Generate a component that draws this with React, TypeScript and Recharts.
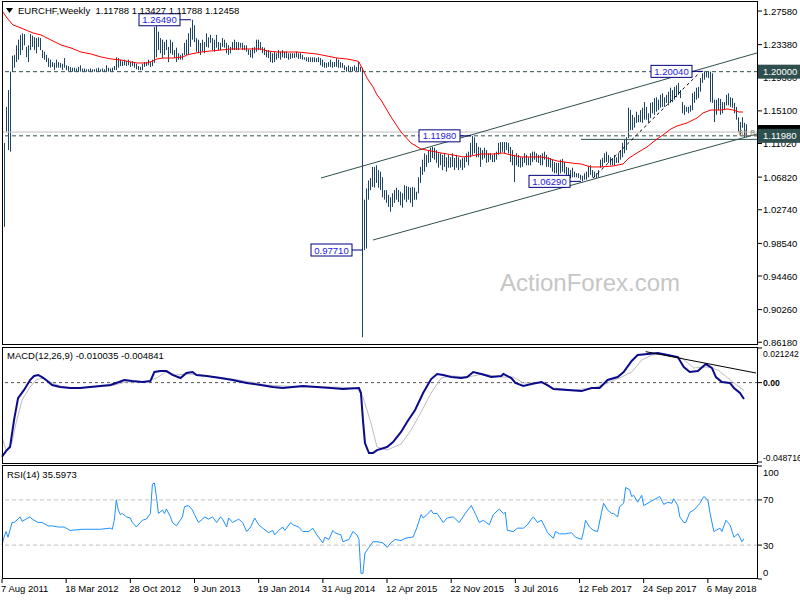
import { ComposedChart, Bar, Line, XAxis, YAxis, ReferenceLine, ReferenceDot } from "recharts"

// weekly EURCHF bars, week 0 = 7 Aug 2011
const highs = [
  1.111, 1.156, 1.177, 1.200, 1.220, 1.221, 1.233, 1.240, 1.246, 1.248,
  1.247, 1.231, 1.233, 1.247, 1.245, 1.243, 1.242, 1.243, 1.242, 1.227,
  1.225, 1.221, 1.217, 1.215, 1.212, 1.211, 1.215, 1.212, 1.211, 1.210,
  1.217, 1.208, 1.207, 1.206, 1.205, 1.205, 1.204, 1.206, 1.208, 1.204,
  1.204, 1.203, 1.203, 1.204, 1.203, 1.203, 1.204, 1.205, 1.203, 1.204,
  1.203, 1.208, 1.205, 1.204, 1.205, 1.207, 1.218, 1.217, 1.215, 1.213,
  1.215, 1.213, 1.215, 1.212, 1.213, 1.211, 1.210, 1.207, 1.206, 1.210,
  1.212, 1.212, 1.215, 1.212, 1.215, 1.256, 1.257, 1.250, 1.242, 1.240,
  1.237, 1.240, 1.231, 1.240, 1.237, 1.227, 1.230, 1.223, 1.221, 1.223,
  1.236, 1.240, 1.248, 1.255, 1.2649, 1.258, 1.242, 1.240, 1.236, 1.240,
  1.237, 1.248, 1.243, 1.246, 1.242, 1.240, 1.246, 1.237, 1.236, 1.242,
  1.240, 1.236, 1.233, 1.231, 1.237, 1.240, 1.237, 1.237, 1.236, 1.236,
  1.233, 1.233, 1.228, 1.227, 1.230, 1.231, 1.240, 1.240, 1.237, 1.231,
  1.230, 1.227, 1.227, 1.225, 1.223, 1.225, 1.223, 1.227, 1.225, 1.227,
  1.225, 1.225, 1.223, 1.223, 1.223, 1.223, 1.225, 1.223, 1.223, 1.221,
  1.218, 1.218, 1.218, 1.218, 1.218, 1.218, 1.217, 1.218, 1.217, 1.215,
  1.212, 1.211, 1.212, 1.215, 1.212, 1.212, 1.217, 1.215, 1.212, 1.211,
  1.208, 1.206, 1.208, 1.206, 1.206, 1.208, 1.206, 1.212, 1.206, 1.205,
  1.040, 1.054, 1.064, 1.067, 1.081, 1.081, 1.083, 1.077, 1.075, 1.068,
  1.052, 1.052, 1.046, 1.043, 1.048, 1.052, 1.055, 1.052, 1.050, 1.048,
  1.058, 1.057, 1.056, 1.055, 1.056, 1.055, 1.050, 1.068, 1.081, 1.090,
  1.098, 1.096, 1.102, 1.105, 1.106, 1.105, 1.102, 1.098, 1.098, 1.096,
  1.098, 1.093, 1.096, 1.093, 1.098, 1.092, 1.096, 1.093, 1.090, 1.092,
  1.093, 1.098, 1.100, 1.111, 1.1198, 1.118, 1.111, 1.106, 1.105, 1.102,
  1.105, 1.102, 1.098, 1.098, 1.096, 1.098, 1.100, 1.111, 1.112, 1.112,
  1.112, 1.112, 1.111, 1.106, 1.102, 1.096, 1.098, 1.096, 1.093, 1.093,
  1.098, 1.096, 1.093, 1.098, 1.100, 1.100, 1.098, 1.096, 1.096, 1.098,
  1.100, 1.096, 1.093, 1.092, 1.090, 1.087, 1.086, 1.086, 1.090, 1.091,
  1.087, 1.081, 1.080, 1.077, 1.080, 1.075, 1.073, 1.073, 1.071, 1.070,
  1.073, 1.075, 1.082, 1.083, 1.077, 1.075, 1.073, 1.077, 1.090, 1.092,
  1.098, 1.100, 1.096, 1.093, 1.092, 1.096, 1.093, 1.098, 1.102, 1.111,
  1.115, 1.118, 1.155, 1.152, 1.146, 1.143, 1.150, 1.146, 1.152, 1.155,
  1.162, 1.156, 1.148, 1.161, 1.162, 1.167, 1.168, 1.165, 1.171, 1.173,
  1.168, 1.171, 1.175, 1.180, 1.177, 1.181, 1.183, 1.186, 1.177, 1.162,
  1.158, 1.156, 1.156, 1.158, 1.173, 1.175, 1.180, 1.181, 1.192, 1.198,
  1.2004, 1.200, 1.200, 1.200, 1.198, 1.165, 1.165, 1.167, 1.166, 1.162,
  1.162, 1.171, 1.173, 1.168, 1.167, 1.161, 1.156, 1.143, 1.137, 1.143,
  1.136, 1.13427,
]

const lows = [
  1.006, 1.125, 1.102, 1.100, 1.200, 1.205, 1.212, 1.215, 1.221, 1.227,
  1.233, 1.218, 1.212, 1.227, 1.231, 1.227, 1.223, 1.231, 1.227, 1.217,
  1.215, 1.212, 1.206, 1.205, 1.206, 1.202, 1.205, 1.205, 1.205, 1.202,
  1.205, 1.202, 1.201, 1.200, 1.200, 1.200, 1.200, 1.200, 1.200, 1.200,
  1.200, 1.200, 1.200, 1.200, 1.200, 1.200, 1.200, 1.200, 1.200, 1.200,
  1.200, 1.200, 1.200, 1.200, 1.200, 1.202, 1.202, 1.205, 1.207, 1.207,
  1.208, 1.207, 1.208, 1.206, 1.207, 1.205, 1.203, 1.202, 1.202, 1.202,
  1.206, 1.207, 1.208, 1.206, 1.207, 1.211, 1.218, 1.227, 1.223, 1.217,
  1.221, 1.227, 1.212, 1.223, 1.221, 1.217, 1.212, 1.215, 1.215, 1.215,
  1.221, 1.221, 1.221, 1.231, 1.240, 1.237, 1.225, 1.223, 1.221, 1.225,
  1.223, 1.231, 1.230, 1.236, 1.227, 1.225, 1.230, 1.227, 1.227, 1.231,
  1.230, 1.223, 1.221, 1.223, 1.227, 1.227, 1.227, 1.227, 1.230, 1.227,
  1.227, 1.225, 1.221, 1.218, 1.217, 1.223, 1.225, 1.227, 1.227, 1.223,
  1.221, 1.218, 1.217, 1.212, 1.211, 1.212, 1.215, 1.217, 1.215, 1.218,
  1.217, 1.217, 1.215, 1.216, 1.217, 1.217, 1.218, 1.216, 1.216, 1.215,
  1.215, 1.213, 1.212, 1.212, 1.212, 1.212, 1.212, 1.212, 1.208, 1.206,
  1.205, 1.205, 1.206, 1.206, 1.205, 1.206, 1.206, 1.205, 1.205, 1.205,
  1.202, 1.200, 1.201, 1.200, 1.200, 1.201, 1.201, 1.200, 1.200, 0.868,
  0.9771, 0.979, 1.040, 1.052, 1.056, 1.055, 1.061, 1.055, 1.052, 1.043,
  1.040, 1.036, 1.031, 1.025, 1.031, 1.036, 1.040, 1.037, 1.033, 1.030,
  1.040, 1.037, 1.040, 1.036, 1.031, 1.040, 1.040, 1.048, 1.061, 1.071,
  1.075, 1.081, 1.086, 1.087, 1.092, 1.090, 1.086, 1.080, 1.083, 1.077,
  1.081, 1.075, 1.080, 1.080, 1.081, 1.077, 1.080, 1.077, 1.080, 1.077,
  1.080, 1.087, 1.083, 1.093, 1.096, 1.098, 1.093, 1.093, 1.081, 1.090,
  1.092, 1.086, 1.087, 1.090, 1.087, 1.087, 1.090, 1.096, 1.098, 1.100,
  1.098, 1.102, 1.098, 1.087, 1.083, 1.062, 1.083, 1.081, 1.080, 1.081,
  1.086, 1.083, 1.083, 1.083, 1.087, 1.090, 1.087, 1.086, 1.083, 1.083,
  1.090, 1.081, 1.081, 1.080, 1.075, 1.073, 1.073, 1.071, 1.073, 1.075,
  1.073, 1.071, 1.068, 1.067, 1.068, 1.068, 1.068, 1.067, 1.065, 1.0629,
  1.065, 1.065, 1.068, 1.071, 1.068, 1.068, 1.067, 1.068, 1.080, 1.081,
  1.086, 1.087, 1.086, 1.083, 1.083, 1.083, 1.086, 1.086, 1.090, 1.093,
  1.098, 1.102, 1.117, 1.127, 1.127, 1.130, 1.136, 1.137, 1.137, 1.136,
  1.140, 1.140, 1.136, 1.142, 1.148, 1.146, 1.150, 1.152, 1.155, 1.156,
  1.156, 1.161, 1.158, 1.161, 1.162, 1.165, 1.168, 1.171, 1.167, 1.148,
  1.146, 1.150, 1.148, 1.150, 1.152, 1.161, 1.165, 1.167, 1.175, 1.186,
  1.190, 1.193, 1.192, 1.162, 1.161, 1.137, 1.146, 1.152, 1.146, 1.148,
  1.152, 1.158, 1.158, 1.156, 1.155, 1.148, 1.140, 1.125, 1.121, 1.130,
  1.118, 1.11788,
]

// red moving average, read as [week, price]
const maLine = [
  [0, 1.2746], [2, 1.2671], [5, 1.2584], [9, 1.2546], [15, 1.2484], [19, 1.2459], [24, 1.2396],
  [29, 1.2334], [34, 1.2296], [39, 1.2246], [44, 1.2221], [49, 1.2184], [54, 1.2159], [59, 1.2146],
  [64, 1.2121], [67, 1.2109], [72, 1.2109], [75, 1.2134], [77, 1.2159], [80, 1.2171], [85, 1.2171],
  [90, 1.2184], [92, 1.2209], [94, 1.2221], [99, 1.2246], [104, 1.2259], [109, 1.2271], [114, 1.2284],
  [119, 1.2284], [124, 1.2284], [129, 1.2284], [132, 1.2259], [137, 1.2246], [142, 1.2246],
  [147, 1.2246], [152, 1.2234], [157, 1.2221], [162, 1.2196], [167, 1.2171], [172, 1.2159],
  [177, 1.2134], [178, 1.2121], [180, 1.2021], [182, 1.1921], [185, 1.1809], [187, 1.1709],
  [189, 1.1646], [194, 1.1434], [199, 1.1246], [204, 1.1109], [209, 1.1034], [214, 1.1009],
  [219, 1.0984], [225, 1.0959], [230, 1.0934], [234, 1.0946], [239, 1.0971], [245, 1.0971],
  [250, 1.0984], [254, 1.0959], [259, 1.0934], [264, 1.0934], [269, 1.0934], [272, 1.0921],
  [277, 1.0884], [284, 1.0859], [289, 1.0846], [294, 1.0809], [299, 1.0809], [305, 1.0821],
  [310, 1.0846], [313, 1.0921], [317, 1.0984], [322, 1.1059], [327, 1.1159], [330, 1.1209],
  [334, 1.1284], [337, 1.1321], [342, 1.1359], [347, 1.1421], [350, 1.1484], [354, 1.1521],
  [359, 1.1521], [362, 1.1534], [365, 1.1521], [368, 1.1496], [370, 1.1496],
]

const macdLine = [
  [0, -0.0455], [2, -0.042], [4, -0.0395], [6, -0.023], [8, -0.0095], [11, -0.0045], [14, 0.0016],
  [16, 0.0041], [18, 0.0047], [20, 0.0034], [22, 0.0016], [25, -0.0015], [29, -0.0027], [34, -0.0033],
  [39, -0.0033], [44, -0.0027], [49, -0.0021], [54, -0.0015], [57, -0.0002], [61, 0.0016], [65, 0.001],
  [70, 0.0004], [74, 0.001], [76, 0.0065], [79, 0.0071], [82, 0.0071], [85, 0.0047], [89, 0.0028],
  [92, 0.0059], [95, 0.0065], [97, 0.0047], [102, 0.0041], [109, 0.0028], [115, 0.0016], [122, -0.0002],
  [129, -0.0015], [135, -0.0027], [140, -0.0033], [145, -0.0027], [150, -0.0021], [157, -0.0027],
  [164, -0.0033], [170, -0.0039], [178, -0.0033], [179, -0.0064], [180, -0.023], [181, -0.0371],
  [183, -0.0432], [185, -0.0432], [187, -0.0414], [192, -0.0395], [195, -0.0365], [199, -0.0303],
  [202, -0.0242], [206, -0.0168], [210, -0.0064], [214, 0.0022], [217, 0.0053], [220, 0.0047],
  [224, 0.0034], [229, 0.0028], [232, 0.0034], [235, 0.0065], [239, 0.0053], [244, 0.0034],
  [249, 0.0041], [250, 0.0053], [254, 0.0028], [256, -0.0002], [260, -0.0021], [264, -0.0009],
  [269, 0.0004], [272, -0.0015], [275, -0.0039], [282, -0.0045], [289, -0.0052], [294, -0.0033],
  [298, -0.0033], [302, 0.0016], [307, 0.0034], [310, 0.0065], [314, 0.0133], [317, 0.0169],
  [322, 0.0176], [327, 0.0182], [332, 0.0169], [337, 0.0157], [340, 0.0096], [343, 0.0065],
  [347, 0.0071], [351, 0.0114], [354, 0.009], [356, 0.0034], [359, 0.0004], [363, -0.0002],
  [365, -0.0033], [368, -0.0064], [370, -0.010035],
]

const signalLine = [
  [0, -0.0334], [2, -0.0414], [5, -0.0371], [7, -0.0248], [10, -0.0107], [14, -0.0027], [17, 0.0016],
  [20, 0.0028], [24, 0.0004], [29, -0.0021], [35, -0.0033], [44, -0.0027], [54, -0.0021], [62, 0.0004],
  [72, 0.0004], [77, 0.0028], [82, 0.0065], [87, 0.0047], [92, 0.0053], [99, 0.0047], [115, 0.0022],
  [132, -0.0015], [149, -0.0027], [165, -0.0027], [177, -0.0033], [180, -0.0088], [184, -0.0248],
  [187, -0.0395], [192, -0.0414], [199, -0.0377], [204, -0.0291], [209, -0.018], [214, -0.0064],
  [219, 0.0028], [224, 0.0041], [232, 0.0034], [240, 0.0053], [249, 0.0034], [255, 0.0034],
  [260, -0.0002], [269, -0.0002], [275, -0.0033], [285, -0.0045], [295, -0.0033], [302, -0.0002],
  [309, 0.0034], [314, 0.0065], [319, 0.0139], [324, 0.0169], [330, 0.0176], [339, 0.0151],
  [345, 0.009], [352, 0.0096], [357, 0.0077], [362, 0.0028], [365, -0.0002], [370, -0.004841],
]

const rsiLine = [
  [0, 30], [1, 37], [2, 42], [3, 37], [5, 50], [6, 50], [8, 53], [9, 55], [10, 51], [12, 53], [14, 55],
  [15, 53], [18, 50], [20, 50], [23, 47], [25, 47], [28, 46], [31, 46], [34, 43], [40, 44], [49, 44],
  [54, 45], [55, 44], [56, 52], [57, 70], [58, 61], [59, 57], [60, 58], [62, 55], [64, 54], [65, 50],
  [67, 46], [70, 52], [72, 53], [74, 58], [75, 84], [76, 85], [77, 73], [78, 58], [80, 61], [81, 58],
  [82, 62], [84, 55], [85, 50], [87, 47], [90, 55], [91, 64], [93, 65], [95, 61], [96, 57], [98, 50],
  [100, 53], [101, 55], [103, 53], [105, 55], [107, 50], [109, 55], [110, 53], [112, 46], [113, 54],
  [115, 50], [118, 53], [120, 50], [122, 42], [124, 46], [126, 54], [128, 48], [130, 45], [133, 41],
  [135, 43], [136, 39], [138, 43], [140, 46], [141, 43], [144, 50], [145, 48], [148, 46], [150, 42],
  [153, 42], [155, 45], [157, 39], [160, 32], [161, 37], [163, 35], [165, 43], [166, 41], [169, 39],
  [170, 33], [173, 35], [175, 42], [177, 39], [178, 35], [179, 5], [180, 5], [181, 23], [183, 28],
  [185, 33], [187, 33], [190, 32], [192, 28], [194, 32], [196, 35], [199, 34], [201, 36], [204, 37],
  [205, 37], [207, 46], [209, 57], [210, 54], [212, 57], [214, 61], [215, 58], [217, 58], [220, 50],
  [222, 54], [225, 55], [228, 50], [231, 58], [234, 65], [236, 58], [238, 50], [240, 52], [243, 48],
  [245, 57], [248, 62], [250, 58], [251, 59], [252, 43], [255, 42], [257, 45], [260, 45], [262, 48],
  [264, 53], [265, 55], [267, 50], [269, 52], [271, 45], [272, 41], [275, 36], [276, 42], [278, 40],
  [281, 40], [284, 41], [286, 37], [289, 35], [290, 42], [291, 52], [293, 46], [295, 43], [297, 42],
  [299, 59], [300, 67], [302, 61], [304, 58], [305, 58], [307, 55], [308, 64], [310, 67], [311, 81],
  [313, 79], [314, 73], [315, 74], [317, 68], [319, 74], [320, 65], [323, 68], [325, 70], [328, 73],
  [330, 66], [332, 68], [334, 67], [335, 71], [337, 65], [338, 55], [340, 50], [341, 50], [343, 59],
  [345, 61], [348, 67], [350, 73], [352, 70], [353, 59], [355, 42], [356, 43], [358, 45], [359, 42],
  [361, 52], [363, 48], [365, 37], [367, 40], [369, 33], [370, 35.5973],
]

const dateLabels = [
  "7 Aug 2011", "18 Mar 2012", "28 Oct 2012", "9 Jun 2013", "19 Jan 2014", "31 Aug 2014",
  "12 Apr 2015", "22 Nov 2015", "3 Jul 2016", "12 Feb 2017", "24 Sep 2017", "6 May 2018",
]

const priceTicks = [1.2758, 1.2338, 1.193, 1.151, 1.1102, 1.0682, 1.0274, 0.9854, 0.9446, 0.9026, 0.8618]
const currentPrice = 1.12458
const levelLines = [1.2, 1.1198]
const markedExtremes = [[94, 1.2649], [234, 1.1198], [289, 1.0629], [350, 1.2004], [180, 0.9771]]
const upperChannel = [[159, 1.0671], [377, 1.2234]]
const lowerChannel = [[185, 0.9896], [377, 1.1221]]
const fibSwing = [[295, 1.067], [348, 1.198]]
const fibStartWeek = 289
const fib618 = 1.1154
const macdTrend = [[321, 0.019], [376, 0.0059]]
const macdTicks = [0.021242, 0, -0.048716]
const rsiTicks = [100, 70, 30, 0]

const WEEKS = 378
const FONT = "'Liberation Sans', Arial, sans-serif"
const BAR = "#1d4562"
const SLATE = "#2F4F4F"

const rows: any[] = Array.from({ length: WEEKS }, (_, i) => ({
  i,
  range: i < highs.length ? [lows[i], highs[i]] : null,
  ma: null,
  macd: null,
  signal: null,
  rsi: null,
}))
maLine.forEach(([i, v]) => (rows[i].ma = v))
macdLine.forEach(([i, v]) => (rows[i].macd = v))
signalLine.forEach(([i, v]) => (rows[i].signal = v))
rsiLine.forEach(([i, v]) => (rows[i].rsi = v))

const tagFill: Record<string, string> = {
  [currentPrice.toFixed(5)]: "#000",
  [levelLines[0].toFixed(5)]: SLATE,
  [levelLines[1].toFixed(5)]: SLATE,
}

function PriceBar(props: any) {
  const { x, y, height } = props
  if (x == null || y == null || height == null) return null
  const top = Math.min(y, y + height)
  return <rect x={Math.floor(x) + 1} y={top} width={1} height={Math.max(1, Math.abs(height))} fill={BAR} />
}

function PriceTick({ x, y, payload }: any) {
  const text = Number(payload.value).toFixed(5)
  const bg = tagFill[text]
  if (bg) {
    return (
      <g>
        <rect x={x - 5} y={y - 7} width={46} height={14} fill={bg} />
        <text x={x} y={y} dy={3.5} fill="#fff" fontSize={9.5} fontFamily={FONT}>{text}</text>
      </g>
    )
  }
  return <text x={x} y={y} dy={3.5} fill="#000" fontSize={9.5} fontFamily={FONT}>{text}</text>
}

function MacdTick({ x, y, payload }: any) {
  const v = Number(payload.value)
  const dy = v > 0.02 ? 8.5 : v < -0.04 ? -1.5 : 3.5
  return (
    <text x={x} y={y} dy={dy} fill="#000" fontSize={8.6} fontFamily={FONT} fontWeight={v === 0 ? "bold" : "normal"}>
      {v === 0 ? "0.00" : v.toFixed(6)}
    </text>
  )
}

function RsiTick({ x, y, payload }: any) {
  const v = Number(payload.value)
  const dy = v === 100 ? 10 : v === 0 ? -3 : 3.5
  return <text x={x} y={y} dy={dy} fill="#000" fontSize={9.5} fontFamily={FONT}>{v}</text>
}

function DateTick({ x, y, payload }: any) {
  return (
    <text x={x - 1} y={y} dy={7} fill="#000" fontSize={9.5} fontFamily={FONT}>
      {dateLabels[Math.round(payload.value / 32)]}
    </text>
  )
}

const extremeTag = (text: string) => (p: any) => {
  const { cx, cy } = p
  const right = cx - 11
  return (
    <g>
      <line x1={right} y1={cy} x2={cx} y2={cy} stroke="#000080" />
      <rect x={right - 41} y={cy - 6} width={41} height={12} fill="#fff" stroke="#000080" />
      <text x={right - 20.5} y={cy} dy={3.5} textAnchor="middle" fill="#1a1ae6" fontSize={9.5} fontFamily={FONT}>
        {text}
      </text>
    </g>
  )
}

const fibText = (p: any) => (
  <text x={p.cx - 2} y={p.cy - 3} textAnchor="end" fill="#8a7f6e" fontSize={8.5} fontFamily={FONT}>61.8</text>
)

const box = (top: number, height: number): any => ({
  position: "absolute",
  left: 2,
  top,
  width: 756,
  height,
  border: "1px solid #000",
  boxSizing: "border-box",
  pointerEvents: "none",
})

const caption = (top: number): any => ({
  position: "absolute",
  left: 7,
  top,
  fontSize: 9.5,
  lineHeight: "12px",
  fontFamily: FONT,
  color: "#000",
  whiteSpace: "pre",
})

export default function App() {
  return (
    <div style={{ position: "absolute", left: 0, top: 0, width: 800, height: 600, background: "#fff", overflow: "hidden" }}>
      <div
        style={{
          position: "absolute",
          left: 500,
          top: 271,
          fontSize: 24,
          lineHeight: "24px",
          fontFamily: FONT,
          color: "#c6c6c6",
        }}
      >
        ActionForex.com
      </div>

      <div style={{ position: "absolute", left: 0, top: 346 }}>
        <ComposedChart width={800} height={118} data={rows} margin={{ top: 2, right: 0, bottom: 2, left: 2 }}>
          <XAxis dataKey="i" hide />
          <YAxis
            orientation="right"
            width={42}
            domain={[-0.048716, 0.021242]}
            allowDataOverflow
            ticks={macdTicks}
            interval={0}
            tick={<MacdTick />}
            tickSize={4}
            tickMargin={1}
            tickLine={{ stroke: "#000" }}
            axisLine={false}
          />
          <ReferenceLine y={0} stroke="#555" strokeDasharray="3 3" />
          <Line dataKey="signal" stroke="#bdbdbd" strokeWidth={1} dot={false} connectNulls isAnimationActive={false} />
          <Line dataKey="macd" stroke="#0a0a8c" strokeWidth={2} dot={false} connectNulls isAnimationActive={false} />
          <ReferenceLine segment={macdTrend.map(([x, y]) => ({ x, y }))} stroke="#000" />
        </ComposedChart>
      </div>

      <div style={{ position: "absolute", left: 0, top: 0 }}>
        <ComposedChart width={800} height={350} data={rows} margin={{ top: 2, right: 0, bottom: 6, left: 2 }}>
          <XAxis dataKey="i" hide />
          <YAxis
            orientation="right"
            width={42}
            domain={[0.8596, 1.2871]}
            allowDataOverflow
            ticks={[...priceTicks, currentPrice, ...levelLines.slice().reverse()]}
            interval={0}
            tick={<PriceTick />}
            tickSize={4}
            tickMargin={1}
            tickLine={{ stroke: "#000" }}
            axisLine={false}
          />
          <ReferenceLine y={currentPrice} stroke="#c0c0c0" />
          {levelLines.map((v) => (
            <ReferenceLine key={v} y={v} stroke={SLATE} strokeDasharray="4 3" />
          ))}
          <ReferenceLine segment={upperChannel.map(([x, y]) => ({ x, y }))} stroke={SLATE} />
          <ReferenceLine segment={lowerChannel.map(([x, y]) => ({ x, y }))} stroke={SLATE} />
          <ReferenceLine
            segment={[{ x: fibStartWeek, y: fib618 }, { x: WEEKS - 1, y: fib618 }]}
            stroke={SLATE}
          />
          <ReferenceLine
            segment={fibSwing.map(([x, y]) => ({ x, y }))}
            stroke="#000"
            strokeDasharray="3 3"
          />
          <Bar dataKey="range" barSize={1} shape={<PriceBar />} isAnimationActive={false} />
          <Line
            dataKey="ma"
            stroke="#ff0000"
            strokeWidth={1}
            dot={false}
            connectNulls
            isAnimationActive={false}
          />
          {markedExtremes.map(([i, v]) => (
            <ReferenceDot key={i} x={i} y={v} r={0} shape={extremeTag(v.toFixed(5))} />
          ))}
          <ReferenceDot x={WEEKS - 1} y={fib618} r={0} shape={fibText} />
        </ComposedChart>
      </div>

      <div style={{ position: "absolute", left: 0, top: 464 }}>
        <ComposedChart width={800} height={136} data={rows} margin={{ top: 2, right: 0, bottom: 0, left: 2 }}>
          <XAxis
            dataKey="i"
            height={21}
            interval={31}
            tick={<DateTick />}
            tickSize={4}
            tickMargin={2}
            tickLine={{ stroke: "#000" }}
            axisLine={false}
          />
          <YAxis
            orientation="right"
            width={42}
            domain={[0, 100]}
            ticks={rsiTicks}
            interval={0}
            tick={<RsiTick />}
            tickSize={4}
            tickMargin={1}
            tickLine={{ stroke: "#000" }}
            axisLine={false}
          />
          <ReferenceLine y={70} stroke="#c0c0c0" strokeDasharray="4 3" />
          <ReferenceLine y={30} stroke="#c0c0c0" strokeDasharray="4 3" />
          <Line dataKey="rsi" stroke="#1e90ff" strokeWidth={1} dot={false} connectNulls isAnimationActive={false} />
        </ComposedChart>
      </div>

      <div style={box(1, 344)} />
      <div style={box(347, 117)} />
      <div style={box(465, 114)} />

      <svg style={{ position: "absolute", left: 6, top: 8 }} width={8} height={6}>
        <polygon points="0,0 7,0 3.5,5" fill="#000" />
      </svg>
      <div style={{ ...caption(5), left: 18 }}>
        {"EURCHF,Weekly  1.11788 1.13427 1.11788 1.12458"}
      </div>
      <div style={caption(350)}>{"MACD(12,26,9) -0.010035 -0.004841"}</div>
      <div style={caption(469)}>{"RSI(14) 35.5973"}</div>
    </div>
  )
}
